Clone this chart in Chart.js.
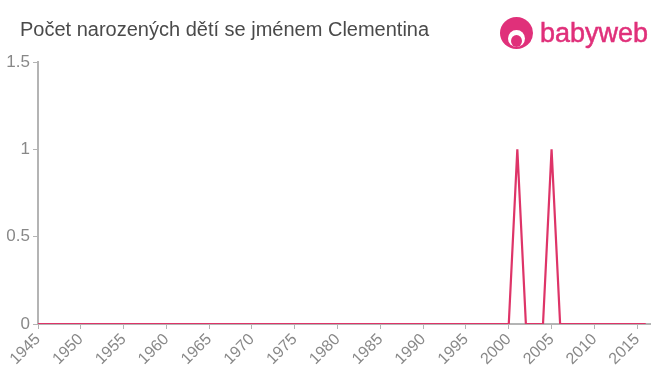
<!DOCTYPE html>
<html>
<head>
<meta charset="utf-8">
<script src="https://cdn.jsdelivr.net/npm/chart.js@4/dist/chart.umd.min.js"></script>
<style>
  html, body { margin: 0; padding: 0; background: #fff; }
  #wrap { position: relative; width: 660px; height: 375px; }
  #title { position: absolute; left: 20px; top: 18px; font-family: "Liberation Sans", Arial, sans-serif; font-size: 20px; color: #4a4a4a; white-space: nowrap; }
  #logo { position: absolute; left: 500px; top: 15px; height: 36px; display: flex; align-items: center; }
  #icon { width: 33px; height: 32px; border-radius: 50%; background: #e0307a; position: relative; margin-right: 7px; }
  #icon .face { position: absolute; left: 8px; top: 13px; width: 17px; height: 17px; border-radius: 50%; background: #fff; }
  #icon .face2 { position: absolute; left: 11px; top: 18px; width: 11px; height: 12px; border-radius: 50%; background: #e0307a; }
  #logotext { font-family: "Liberation Sans", Arial, sans-serif; font-size: 27px; color: #e0307a; -webkit-text-stroke: 0.5px #e0307a; }
  canvas { position: absolute; left: 0; top: 0; }
</style>
</head>
<body>
<div id="wrap">
  <canvas id="c" width="660" height="375"></canvas>
  <div id="title">Počet narozených dětí se jménem Clementina</div>
  <div id="logo"><div id="icon"><div class="face"></div><div class="face2"></div></div><div id="logotext">babyweb</div></div>
</div>
<script>
const years = [1945,1946,1947,1948,1949,1950,1951,1952,1953,1954,1955,1956,1957,1958,1959,1960,1961,1962,1963,1964,1965,1966,1967,1968,1969,1970,1971,1972,1973,1974,1975,1976,1977,1978,1979,1980,1981,1982,1983,1984,1985,1986,1987,1988,1989,1990,1991,1992,1993,1994,1995,1996,1997,1998,1999,2000,2001,2002,2003,2004,2005,2006,2007,2008,2009,2010,2011,2012,2013,2014,2015,2016];
const births = [0,0,0,0,0,0,0,0,0,0,0,0,0,0,0,0,0,0,0,0,0,0,0,0,0,0,0,0,0,0,0,0,0,0,0,0,0,0,0,0,0,0,0,0,0,0,0,0,0,0,0,0,0,0,0,0,1,0,0,0,1,0,0,0,0,0,0,0,0,0,0,0];
const xTickLabels = [1945,1950,1955,1960,1965,1970,1975,1980,1985,1990,1995,2000,2005,2010,2015];
const yTickLabels = [0,0.5,1,1.5];

const pts = years.map((y, i) => ({x: y, y: births[i]}));
new Chart(document.getElementById('c'), {
  type: 'line',
  data: { datasets: [{ data: pts, borderColor: '#de3468', borderWidth: 2.2, pointRadius: 0, tension: 0, fill: false }] },
  options: {
    responsive: false, animation: false,
    layout: { padding: { top: 62, right: 10, left: 0, bottom: 0 } },
    plugins: { legend: { display: false }, tooltip: { enabled: false } },
    scales: {
      x: {
        type: 'linear', min: 1945, max: 2016.5,
        afterBuildTicks: s => { s.ticks = xTickLabels.map(v => ({value: v})); },
        afterFit: s => { s.height = 51; },
        grid: { display: true, drawOnChartArea: false, tickLength: 5, color: '#b4b4b4' },
        border: { color: '#b4b4b4', width: 2 },
        ticks: { autoSkip: false, maxRotation: 45, minRotation: 45, color: '#888', font: { family: '"Liberation Sans", Arial, sans-serif', size: 16 }, padding: 1, callback: v => String(v) }
      },
      y: {
        min: 0, max: 1.5,
        afterBuildTicks: s => { s.ticks = yTickLabels.map(v => ({value: v})); },
        afterFit: s => { s.width = 38; },
        grid: { display: true, drawOnChartArea: false, tickLength: 5, color: '#b4b4b4' },
        border: { color: '#b4b4b4', width: 2 },
        ticks: { color: '#888', font: { family: '"Liberation Sans", Arial, sans-serif', size: 17 }, padding: 3, callback: v => String(v) }
      }
    }
  }
});
</script>
</body>
</html>
